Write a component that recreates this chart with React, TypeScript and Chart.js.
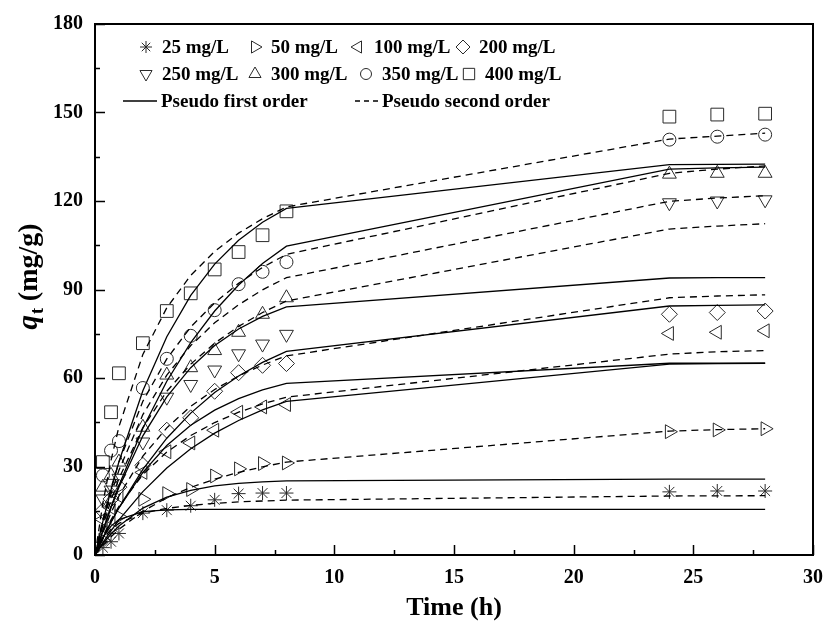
import React, { useEffect, useRef } from 'react';
import { Chart, registerables } from 'chart.js';
import { drawPoint } from 'chart.js/helpers';

Chart.register(...registerables);

// ---------- data ----------
const obsTimes = [0.33, 0.67, 1, 2, 3, 4, 5, 6, 7, 8, 24, 26, 28];
const fitTimes = [0, 0.33, 0.67, 1, 2, 3, 4, 5, 6, 7, 8, 24, 26, 28];

const seriesLabels = ['25 mg/L', '50 mg/L', '100 mg/L', '200 mg/L', '250 mg/L', '300 mg/L', '350 mg/L', '400 mg/L'];

const q25 = [2.5, 4.5, 7.3, 14.2, 15.2, 16.7, 18.7, 20.8, 21.0, 21.0, 21.4, 21.7, 21.7];
const q50 = [5.0, 9.0, 13.0, 18.9, 20.8, 22.2, 26.8, 29.2, 31.0, 31.2, 41.8, 42.4, 42.8];
const q100 = [12.0, 16.0, 20.0, 28.0, 35.0, 38.0, 42.3, 48.4, 50.2, 51.0, 75.1, 75.5, 76.0];
const q200 = [15.0, 19.0, 23.0, 30.4, 42.3, 46.5, 55.5, 61.8, 64.3, 64.9, 81.6, 82.2, 82.7];
const q250 = [19.0, 22.0, 26.0, 38.3, 53.5, 57.8, 62.7, 68.2, 71.5, 74.8, 119.4, 120.0, 120.4];
const q300 = [23.0, 27.0, 31.5, 43.3, 61.0, 63.5, 69.3, 75.5, 81.6, 87.2, 129.1, 129.4, 129.4];
const q350 = [27.0, 35.4, 38.6, 56.6, 66.5, 74.3, 83.0, 91.8, 96.0, 99.3, 140.8, 141.8, 142.5];
const q400 = [31.5, 48.4, 61.6, 71.8, 82.7, 88.7, 96.8, 102.7, 108.4, 116.5, 148.6, 149.3, 149.6];

// pseudo first order fits (solid)
const pfo25 = [0, 6.1, 9.8, 12.0, 14.7, 15.3, 15.5, 15.5, 15.5, 15.5, 15.5, 15.5, 15.5, 15.5];
const pfo50 = [0, 3.8, 7.1, 9.8, 15.9, 19.6, 21.9, 23.4, 24.3, 24.8, 25.1, 25.7, 25.7, 25.7];
const pfo100 = [0, 4.2, 8.2, 11.9, 21.5, 29.5, 36.0, 41.3, 45.6, 49.2, 52.1, 64.7, 64.9, 65.0];
const pfo200 = [0, 5.8, 11.2, 16.0, 28.0, 37.1, 44.0, 49.1, 53.0, 56.0, 58.2, 65.0, 65.0, 65.0];
const pfo250 = [0, 5.7, 11.1, 16.0, 29.0, 39.6, 48.1, 55.1, 60.7, 65.3, 69.0, 84.4, 84.6, 84.8];
const pfo300 = [0, 8.3, 16.1, 23.0, 40.4, 53.6, 63.5, 71.0, 76.6, 80.9, 84.1, 93.9, 94.0, 94.0];
const pfo350 = [0, 8.3, 16.3, 23.6, 43.0, 58.9, 72.0, 82.7, 91.5, 98.8, 104.7, 130.8, 131.2, 131.5];
const pfo400 = [0, 11.4, 22.1, 31.6, 55.7, 74.0, 88.0, 98.6, 106.7, 112.8, 117.5, 132.3, 132.4, 132.5];

// pseudo second order fits (dashed)
const pso25 = [0, 5.4, 8.7, 10.7, 14.2, 15.8, 16.8, 17.5, 18.0, 18.3, 18.6, 20.0, 20.05, 20.1];
const pso50 = [0, 3.2, 6.2, 8.7, 14.8, 19.4, 22.9, 25.7, 28.0, 29.9, 31.5, 42.0, 42.5, 42.8];
const pso100 = [0, 6.3, 11.9, 16.5, 27.3, 34.9, 40.5, 44.9, 48.4, 51.2, 53.5, 68.1, 68.9, 69.3];
const pso200 = [0, 7.6, 14.3, 20.0, 33.5, 43.1, 50.4, 56.1, 60.7, 64.4, 67.5, 87.2, 87.8, 88.2];
const pso250 = [0, 9.9, 18.6, 25.9, 43.2, 55.5, 64.7, 71.8, 77.5, 82.2, 86.1, 110.5, 111.5, 112.3];
const pso300 = [0, 11.0, 20.7, 28.7, 47.6, 61.0, 71.0, 78.7, 84.8, 89.9, 94.0, 119.9, 121.0, 121.8];
const pso350 = [0, 12.1, 22.7, 31.5, 52.1, 66.5, 77.3, 85.5, 92.1, 97.5, 101.9, 129.4, 130.8, 131.9];
const pso400 = [0, 17.6, 32.1, 43.5, 68.0, 83.8, 94.8, 102.9, 109.1, 114.0, 118.0, 141.0, 142.0, 143.0];

const xTickValues = [0, 5, 10, 15, 20, 25, 30];
const yTickValues = [0, 30, 60, 90, 120, 150, 180];
const xTitle = 'Time (h)';
const fitLabels = ['Pseudo first order', 'Pseudo second order'];

// ---------- styles ----------
const FONT = '"Liberation Serif", "Times New Roman", serif';
const markerColor = '#2a2a2a';
const markers = [
  { pointStyle: 'star', rotation: 0, radius: 7 },
  { pointStyle: 'triangle', rotation: 90, radius: 8 },
  { pointStyle: 'triangle', rotation: 270, radius: 8 },
  { pointStyle: 'rectRot', rotation: 0, radius: 8 },
  { pointStyle: 'triangle', rotation: 180, radius: 8 },
  { pointStyle: 'triangle', rotation: 0, radius: 8 },
  { pointStyle: 'circle', rotation: 0, radius: 6.5 },
  { pointStyle: 'rect', rotation: 0, radius: 9 },
];

const obsSeries = [q25, q50, q100, q200, q250, q300, q350, q400];
const pfoSeries = [pfo25, pfo50, pfo100, pfo200, pfo250, pfo300, pfo350, pfo400];
const psoSeries = [pso25, pso50, pso100, pso200, pso250, pso300, pso350, pso400];

const decorPlugin = {
  id: 'decor',
  afterDraw(chart: any) {
    const { ctx, chartArea: a, scales } = chart;
    const xs = scales.x;
    const ys = scales.y;
    ctx.save();
    ctx.strokeStyle = '#000';
    ctx.lineWidth = 2;
    ctx.strokeRect(a.left, a.top, a.right - a.left, a.bottom - a.top);

    // inward tick marks
    ctx.lineWidth = 1.5;
    ctx.beginPath();
    for (let v = 0; v <= 30.001; v += 2.5) {
      const px = Math.round(xs.getPixelForValue(v)) + 0.5;
      const len = Math.abs(v % 5) < 0.01 ? 10 : 5;
      ctx.moveTo(px, a.bottom);
      ctx.lineTo(px, a.bottom - len);
    }
    for (let v = 0; v <= 180.001; v += 15) {
      const py = Math.round(ys.getPixelForValue(v)) + 0.5;
      const len = Math.abs(v % 30) < 0.01 ? 10 : 5;
      ctx.moveTo(a.left, py);
      ctx.lineTo(a.left + len, py);
    }
    ctx.stroke();

    // x title
    ctx.fillStyle = '#000';
    ctx.font = `bold 26px ${FONT}`;
    ctx.textAlign = 'center';
    ctx.textBaseline = 'alphabetic';
    ctx.fillText(xTitle, (a.left + a.right) / 2, 615);

    // y title  q_t (mg/g)
    ctx.save();
    ctx.translate(28, 277);
    ctx.rotate(-Math.PI / 2);
    ctx.textAlign = 'left';
    const f1 = `italic bold 29px ${FONT}`;
    const f2 = `bold 18px ${FONT}`;
    const f3 = `bold 28px ${FONT}`;
    ctx.font = f1; const w1 = ctx.measureText('q').width;
    ctx.font = f2; const w2 = ctx.measureText('t').width;
    ctx.font = f3; const w3 = ctx.measureText(' (mg/g)').width;
    let sx = -(w1 + w2 + w3) / 2;
    ctx.font = f1; ctx.fillText('q', sx, 9); sx += w1 + 1;
    ctx.font = f2; ctx.fillText('t', sx, 15); sx += w2;
    ctx.font = f3; ctx.fillText(' (mg/g)', sx, 9);
    ctx.restore();

    // legend
    ctx.font = `bold 19px ${FONT}`;
    ctx.textAlign = 'left';
    ctx.textBaseline = 'middle';
    const rows = [47, 74];
    const markX = [[146, 255, 358, 463], [146, 255, 366, 469]];
    for (let i = 0; i < 8; i++) {
      const r = Math.floor(i / 4);
      const c = i % 4;
      const mx = markX[r][c];
      const my = rows[r];
      ctx.strokeStyle = markerColor;
      ctx.fillStyle = 'rgba(0,0,0,0)';
      ctx.lineWidth = 1;
      drawPoint(ctx, { pointStyle: markers[i].pointStyle, rotation: markers[i].rotation, radius: markers[i].radius - 1, borderWidth: 1 }, mx, my);
      ctx.fillStyle = '#000';
      ctx.fillText(seriesLabels[i], mx + 16, my + 1);
    }
    const ly = 101;
    ctx.strokeStyle = '#000';
    ctx.lineWidth = 1.3;
    ctx.beginPath();
    ctx.moveTo(123, ly); ctx.lineTo(157, ly);
    ctx.stroke();
    ctx.setLineDash([5, 4]);
    ctx.beginPath();
    ctx.moveTo(355, ly); ctx.lineTo(380, ly);
    ctx.stroke();
    ctx.setLineDash([]);
    ctx.fillText(fitLabels[0], 161, ly + 1);
    ctx.fillText(fitLabels[1], 382, ly + 1);
    ctx.restore();
  },
};

export default function App() {
  const ref = useRef<HTMLCanvasElement | null>(null);
  useEffect(() => {
    document.body.style.margin = '0';
    const datasets: any[] = [];
    for (let i = 0; i < 8; i++) {
      datasets.push({
        label: 'PFO ' + seriesLabels[i],
        data: fitTimes.map((t, j) => ({ x: t, y: pfoSeries[i][j] })),
        showLine: true,
        borderColor: '#000',
        borderWidth: 1.3,
        pointRadius: 0,
        fill: false,
      });
      datasets.push({
        label: 'PSO ' + seriesLabels[i],
        data: fitTimes.map((t, j) => ({ x: t, y: psoSeries[i][j] })),
        showLine: true,
        borderColor: '#000',
        borderWidth: 1.3,
        borderDash: [7, 5],
        pointRadius: 0,
        fill: false,
      });
    }
    for (let i = 0; i < 8; i++) {
      datasets.push({
        label: seriesLabels[i],
        data: obsTimes.map((t, j) => ({ x: t, y: obsSeries[i][j] })),
        showLine: false,
        pointStyle: markers[i].pointStyle,
        rotation: markers[i].rotation,
        pointRadius: markers[i].radius,
        borderColor: markerColor,
        backgroundColor: 'rgba(0,0,0,0)',
        pointBorderWidth: 1,
      });
    }
    const chart = new Chart(ref.current as HTMLCanvasElement, {
      type: 'scatter',
      data: { datasets },
      options: {
        animation: false,
        responsive: false,
        maintainAspectRatio: false,
        layout: { padding: { left: 0, top: 22, right: 12, bottom: 0 } },
        plugins: { legend: { display: false }, tooltip: { enabled: false } },
        scales: {
          x: {
            type: 'linear',
            min: 0,
            max: 30,
            afterFit: (s: any) => { s.height = 75; },
            afterBuildTicks: (s: any) => { s.ticks = xTickValues.map((v) => ({ value: v })); },
            ticks: { color: '#000', padding: 11, font: { family: FONT, size: 20, weight: 'bold' } },
            grid: { display: false, drawTicks: false },
            border: { display: false },
          },
          y: {
            type: 'linear',
            min: 0,
            max: 180,
            afterFit: (s: any) => { s.width = 95; },
            afterBuildTicks: (s: any) => { s.ticks = yTickValues.map((v) => ({ value: v })); },
            ticks: { color: '#000', padding: 12, font: { family: FONT, size: 20, weight: 'bold' } },
            grid: { display: false, drawTicks: false },
            border: { display: false },
          },
        },
      },
      plugins: [decorPlugin],
    });
    return () => chart.destroy();
  }, []);
  return (
    <div style={{ width: 834, height: 630 }}>
      <canvas ref={ref} width={834} height={630} style={{ display: 'block' }} />
    </div>
  );
}
